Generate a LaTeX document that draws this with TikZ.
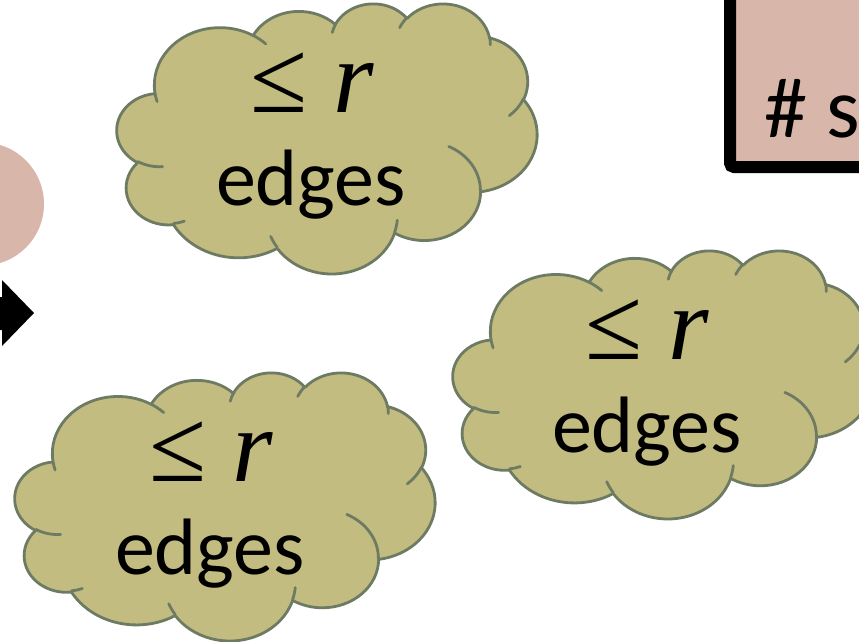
\documentclass[tikz,border=0pt]{standalone}
\usepackage{fontspec}
\setmainfont{Carlito}
\newfontfamily\symf{Liberation Serif}
\definecolor{cloudfill}{HTML}{C3BC81}
\definecolor{cloudedge}{HTML}{6E7B63}
\definecolor{pinkfill}{HTML}{D8B6A9}
\tikzset{
  ooarc/.style n args={4}{insert path={arc[x radius=#1, y radius=#2,
     start angle={atan2(#1*sin(#3),#2*cos(#3))},
     end angle={atan2(#1*sin(#3),#2*cos(#3))+mod(atan2(#1*sin(#3+#4),#2*cos(#3+#4))-atan2(#1*sin(#3),#2*cos(#3))+720,360)}]}},
  cloudsty/.style={fill=cloudfill, draw=cloudedge, line width=2.8pt, line join=round},
  cloudline/.style={draw=cloudedge, line width=2.8pt, line cap=round},
  lbl/.style={inner sep=0pt, anchor=base, font=\fontsize{80}{96}\selectfont},
  mlbl/.style={inner sep=0pt, anchor=base, font=\symf\fontsize{104}{120}\selectfont},
  boxsty/.style={fill=pinkfill, draw=black, line width=12pt, rounded corners=4pt},
}
\newcommand\ppcloud{%
  \filldraw[cloudsty] (39,143.7)
   [ooarc={67.53}{91.90}{-190.4875}{123.7805}]
   [ooarc={53.33}{72.67}{-144.1024}{89.9452}]
   [ooarc={43.65}{59.45}{-145.8079}{99.7230}]
   [ooarc={48.57}{65.95}{-130.9861}{117.2417}]
   [ooarc={53.33}{72.73}{-78.7089}{109.0269}]
   [ooarc={67.75}{92.20}{-46.2673}{130.2690}]
   [ooarc={57.85}{78.67}{0.6250}{114.0333}]
   [ooarc={67.52}{92.15}{22.4516}{115.1726}]
   [ooarc={77.20}{105.43}{66.2426}{75.7110}]
   [ooarc={43.60}{59.18}{-274.9421}{146.7356}]
   [ooarc={43.45}{59.45}{-246.8285}{152.5218}]
   -- cycle;
  \draw[cloudline]
   (46.93,261.77) [ooarc={43.45}{59.45}{86.7420}{26.4295}]
   (69.28,348.99) [ooarc={43.60}{59.18}{73.6105}{11.4475}]
   (164.78,390.90) [ooarc={67.52}{92.15}{137.6242}{14.0811}]
   (288.27,347.51) [ooarc={67.52}{92.15}{6.4533}{15.9984}]
   (341.29,229.54) [ooarc={57.85}{78.67}{-70.2924}{70.9174}]
   (417.98,153.54) [ooarc={53.33}{72.73}{30.3180}{27.7515}]
   (383.24,54.26) [ooarc={48.57}{65.95}{-13.7443}{14.8589}]
   (290.78,39.52) [ooarc={48.57}{65.95}{-149.1815}{18.1954}]
   (221.41,47.20) [ooarc={43.65}{59.45}{-163.4943}{17.6864}]
   (140.00,51.92) [ooarc={67.53}{91.90}{-66.7070}{12.3194}]
   (41.27,157.89) [ooarc={67.53}{91.90}{157.6544}{11.8582}];
}
\begin{document}
\begin{tikzpicture}[x=1pt,y=-1pt]
  \useasboundingbox (0,0) rectangle (859,641);
  % left partial circle
  \fill[pinkfill] (-17.6,204) circle[radius=61.6];
  % black arrow head at the left edge
  \fill[black] (-10,297) -- (2,297) -- (2,280) -- (34,313) -- (2,346) -- (2,330) -- (-10,330) -- cycle;
  % box at top right
  \draw[boxsty] (730,-30) rectangle (900,167);
  \node[inner sep=0pt, anchor=base west, font=\fontsize{86}{100}\selectfont] (boxtxt) at (764,137) {\# s};
  % clouds
  \begin{scope}[shift={(117,3)}, xscale=420/432, yscale=270/432] \ppcloud \end{scope}
  \begin{scope}[shift={(453,250)}, xscale=420/432, yscale=268/432] \ppcloud \end{scope}
  \begin{scope}[shift={(15,372)}, xscale=420/432, yscale=268/432] \ppcloud \end{scope}
  % labels
  \node[mlbl] (c1a) at (312,112) {≤ \itshape r};
  \node[lbl] (c1b) at (311,205) {edges};
  \node[mlbl] (c2a) at (647,359) {≤ \itshape r};
  \node[lbl] (c2b) at (647,452) {edges};
  \node[mlbl] (c3a) at (211,481) {≤ \itshape r};
  \node[lbl] (c3b) at (210,574) {edges};
\end{tikzpicture}
\end{document}
